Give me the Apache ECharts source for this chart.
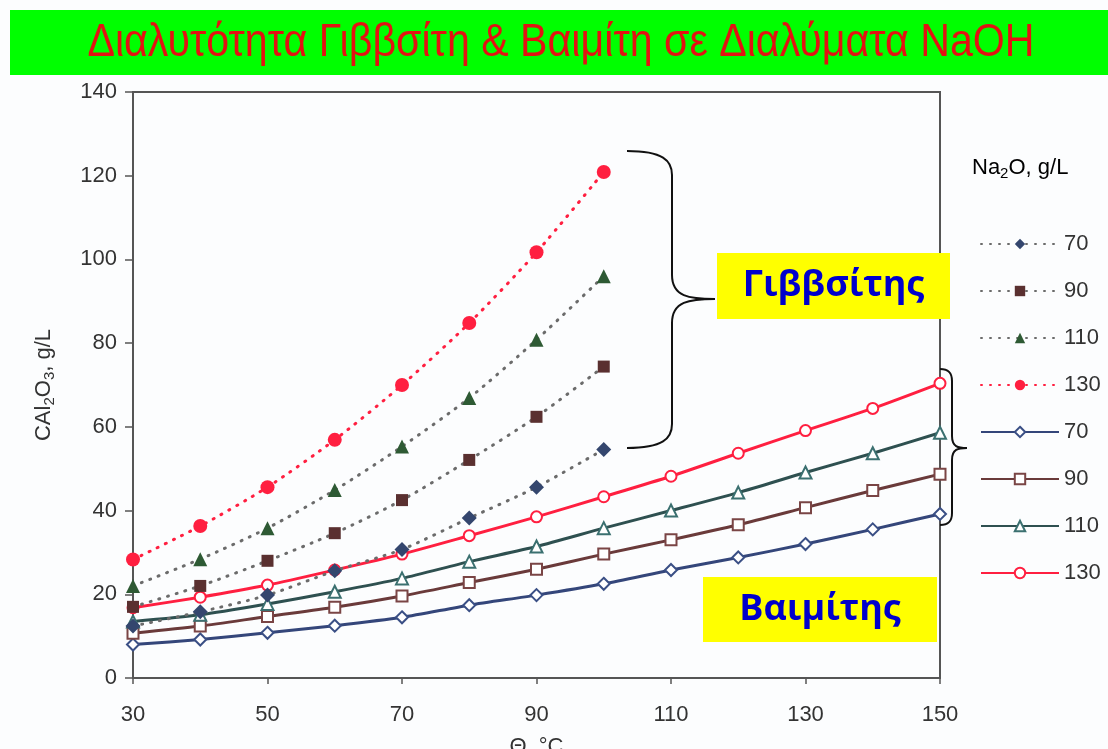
<!DOCTYPE html>
<html>
<head>
<meta charset="utf-8">
<script src="https://cdn.jsdelivr.net/npm/echarts@6/dist/echarts.min.js"></script>
<style>
  html, body { margin: 0; padding: 0; background: #ffffff; }
  #chart { width: 1108px; height: 749px; }
</style>
</head>
<body>
<div id="chart"></div>
<script>
// Temperature (°C) categories along the x axis
const temps = [30, 40, 50, 60, 70, 80, 90, 100, 110, 120, 130, 140, 150];
const xTickLabels = ['30', '50', '70', '90', '110', '130', '150'];
const yTickLabels = ['0', '20', '40', '60', '80', '100', '120', '140'];

// Gibbsite solubility, C Al2O3 in g/L (30–100 °C), per Na2O concentration
const gibbsite70  = [12.4, 15.8, 19.8, 25.6, 30.7, 38.2, 45.6, 54.6];
const gibbsite90  = [17.0, 22.0, 28.0, 34.6, 42.5, 52.1, 62.4, 74.4];
const gibbsite110 = [22.0, 28.4, 35.8, 44.9, 55.3, 66.9, 80.8, 96.0];
const gibbsite130 = [28.3, 36.3, 45.6, 56.9, 70.0, 84.8, 101.7, 120.9];

// Boehmite solubility, C Al2O3 in g/L (30–150 °C)
const boehmite70  = [8.0, 9.2, 10.8, 12.5, 14.5, 17.4, 19.8, 22.5, 25.8, 28.8, 32.0, 35.5, 39.2];
const boehmite90  = [10.7, 12.4, 14.7, 16.9, 19.6, 22.8, 26.0, 29.6, 33.0, 36.6, 40.7, 44.8, 48.7];
const boehmite110 = [13.5, 15.1, 17.7, 20.6, 23.8, 27.8, 31.4, 35.8, 40.0, 44.3, 49.1, 53.7, 58.6];
const boehmite130 = [16.8, 19.3, 22.2, 25.8, 29.6, 34.0, 38.5, 43.3, 48.2, 53.7, 59.1, 64.4, 70.4];

const naoh = ['70', '90', '110', '130'];

const FONT = '"Liberation Sans", Arial, sans-serif';
const DOT_GRAY = '#6b6b6b';
const RED = '#ff1f40';

// rich-text styles for chemical formulas with subscripts
const formulaRich = {
  a: { fontSize: 22, lineHeight: 26, color: '#333333', fontFamily: FONT, verticalAlign: 'middle' },
  s: { fontSize: 15, lineHeight: 26, color: '#333333', fontFamily: FONT, verticalAlign: 'bottom' }
};

function gibbsiteSeries(label, data, symbol, size, color, lineColor) {
  return {
    name: 'Γιββσίτης ' + label,
    type: 'line',
    data: data,
    smooth: 0.25,
    symbol: symbol,
    symbolSize: size,
    itemStyle: { color: color },
    lineStyle: { color: lineColor, width: 3, type: [1, 8], cap: 'round' },
    z: 4
  };
}

function boehmiteSeries(label, data, symbol, size, color, markerColor) {
  return {
    name: 'Βαιμίτης ' + label,
    type: 'line',
    data: data,
    smooth: 0.25,
    symbol: symbol,
    symbolSize: size,
    itemStyle: { color: '#ffffff', borderColor: markerColor, borderWidth: 2 },
    lineStyle: { color: color, width: 3 },
    z: 3
  };
}

const series = [
  gibbsiteSeries(naoh[0], gibbsite70, 'diamond', 15, '#34466e', DOT_GRAY),
  gibbsiteSeries(naoh[1], gibbsite90, 'rect', 12, '#5a3030', DOT_GRAY),
  gibbsiteSeries(naoh[2], gibbsite110, 'triangle', 14, '#2e5a34', DOT_GRAY),
  gibbsiteSeries(naoh[3], gibbsite130, 'circle', 14, RED, RED),
  boehmiteSeries(naoh[0], boehmite70, 'diamond', 12, '#34467a', '#3a4f85'),
  boehmiteSeries(naoh[1], boehmite90, 'rect', 11, '#6a3a3a', '#7a4545'),
  boehmiteSeries(naoh[2], boehmite110, 'triangle', 12, '#2e5050', '#3b7070'),
  boehmiteSeries(naoh[3], boehmite130, 'circle', 11, RED, RED)
];

// Curly brace drawn from bezier pieces: top end, point, bottom end
function brace(xEnd, xMid, xTip, yTop, yTip, yBot, r) {
  const st = { stroke: '#111111', lineWidth: 2, fill: null };
  const dx = xMid - xEnd, dt = xTip - xMid;
  return {
    type: 'group', z: 50,
    children: [
      { type: 'bezierCurve', shape: { x1: xEnd, y1: yTop, cpx1: xEnd + dx * 0.8, cpy1: yTop, cpx2: xMid, cpy2: yTop + r * 0.4, x2: xMid, y2: yTop + r }, style: st },
      { type: 'line', shape: { x1: xMid, y1: yTop + r, x2: xMid, y2: yTip - r }, style: st },
      { type: 'bezierCurve', shape: { x1: xMid, y1: yTip - r, cpx1: xMid, cpy1: yTip - r * 0.1, cpx2: xMid + dt * 0.4, cpy2: yTip, x2: xTip, y2: yTip }, style: st },
      { type: 'bezierCurve', shape: { x1: xTip, y1: yTip, cpx1: xMid + dt * 0.4, cpy1: yTip, cpx2: xMid, cpy2: yTip + r * 0.1, x2: xMid, y2: yTip + r }, style: st },
      { type: 'line', shape: { x1: xMid, y1: yTip + r, x2: xMid, y2: yBot - r }, style: st },
      { type: 'bezierCurve', shape: { x1: xMid, y1: yBot - r, cpx1: xMid, cpy1: yBot - r * 0.4, cpx2: xEnd + dx * 0.8, cpy2: yBot, x2: xEnd, y2: yBot }, style: st }
    ]
  };
}

function tagBox(x, y, w, h, text) {
  return {
    type: 'group', z: 100,
    children: [
      { type: 'rect', shape: { x: x, y: y, width: w, height: h }, style: { fill: '#ffff00' } },
      { type: 'text', x: x + w / 2, y: y + h / 2,
        style: { text: text, fill: '#0000cc', font: 'bold 36px "Open Sans", "DejaVu Sans", sans-serif', align: 'center', verticalAlign: 'middle' } }
    ]
  };
}

const chart = echarts.init(document.getElementById('chart'), null, { renderer: 'canvas' });

chart.setOption({
  backgroundColor: '#fcfdfe',
  animation: false,
  textStyle: { fontFamily: FONT },
  grid: {
    left: 133, right: 168, top: 92, bottom: 71,
    outerBoundsMode: 'none',
    containLabel: false,
    show: true, borderColor: '#555555', borderWidth: 2, backgroundColor: 'transparent'
  },
  xAxis: {
    type: 'category',
    data: temps,
    boundaryGap: false,
    name: 'Θ, °C',
    nameLocation: 'middle',
    nameGap: 58,
    nameTextStyle: { fontSize: 22, color: '#333333', fontFamily: FONT },
    axisLine: { show: true, lineStyle: { color: '#555555', width: 2 } },
    axisTick: { show: true, interval: 1, length: 6, lineStyle: { color: '#555555', width: 1.5 } },
    axisLabel: {
      interval: 1, margin: 26, fontSize: 22, color: '#333333', fontFamily: FONT,
      formatter: v => (xTickLabels.indexOf(String(v)) >= 0 ? String(v) : '')
    },
    splitLine: { show: false }
  },
  yAxis: {
    type: 'value',
    min: 0, max: 140, interval: 20,
    name: '{a|CAl}{s|2}{a|O}{s|3}{a|, g/L}',
    nameLocation: 'middle',
    nameGap: 76,
    nameRotate: 90,
    nameTextStyle: { fontSize: 22, color: '#333333', fontFamily: FONT, rich: formulaRich },
    axisLine: { show: true, lineStyle: { color: '#555555', width: 2 } },
    axisTick: { show: true, length: 8, lineStyle: { color: '#555555', width: 1.5 } },
    axisLabel: {
      margin: 16, fontSize: 22, color: '#333333', fontFamily: FONT,
      formatter: v => yTickLabels[Math.round(v / 20)]
    },
    splitLine: { show: false }
  },
  legend: {
    orient: 'vertical',
    left: 975, top: 228,
    itemWidth: 78, itemHeight: 13, itemGap: 25,
    textStyle: { fontSize: 22, color: '#333333', fontFamily: FONT },
    formatter: name => name.split(' ')[1],
    data: series.map(s => s.name)
  },
  graphic: [
    { type: 'rect', z: 100, shape: { x: 10, y: 10, width: 1098, height: 65 }, style: { fill: '#00ff00' } },
    { type: 'text', z: 101, x: 561, y: 43, scaleX: 0.895,
      style: { text: 'Διαλυτότητα Γιββσίτη & Βαιμίτη σε Διαλύματα NaOH', fill: '#e31212', font: '46px "Liberation Sans", Arial, sans-serif', align: 'center', verticalAlign: 'middle' } },
    { type: 'text', z: 100, x: 972, y: 168,
      style: { text: '{a|Na}{s|2}{a|O, g/L}', rich: formulaRich, align: 'left', verticalAlign: 'middle' } },
    brace(627, 672, 715, 151, 299, 448, 24),
    brace(940, 952, 967, 369, 448, 525, 12),
    tagBox(717, 253, 233, 66, 'Γιββσίτης'),
    tagBox(703, 577, 234, 65, 'Βαιμίτης')
  ],
  series: series
});
</script>
</body>
</html>
